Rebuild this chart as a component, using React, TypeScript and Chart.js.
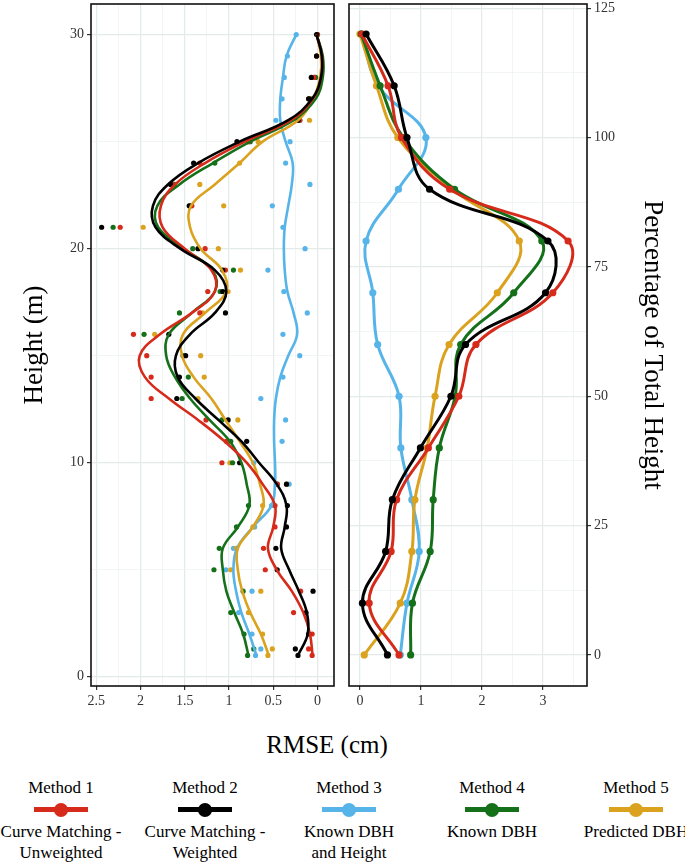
import React, { useEffect, useRef } from 'react';
import { Chart, registerables } from 'chart.js';

Chart.register(...registerables);

const FONT = "'Liberation Serif', 'Times New Roman', serif";

// left panel: heights (m) of the RMSE points
const heights = [1, 1.3, 2, 3, 4, 5, 6, 7, 8, 9, 10, 11, 12, 13, 14, 15, 16, 17, 18, 19, 20, 21, 22, 23, 24, 25, 26, 27, 28, 29, 30];
// left panel: heights where the smoothed curves were read
const curveHeights = [1, 2, 3, 4, 5, 6, 7, 8, 9, 10, 11, 12, 13, 14, 15, 16, 17, 18, 19, 20, 21, 22, 23, 24, 25, 26, 27, 28, 29, 30];
// right panel: percentage of total height
const pctLevels = [0, 10, 20, 30, 40, 50, 60, 70, 80, 90, 100, 110, 120];

// RMSE (cm) points by height
const rmseM1 = [0.06, 0.10, 0.06, 0.27, 0.19, 0.59, 0.61, 0.48, 0.48, 0.455, 1.08, 1.03, 1.26, 1.88, 1.88, 1.93, 2.08, 1.33, 1.24, 1.04, 1.27, 2.23, 1.42, 1.64, 1.33, 0.78, 0.20, 0.10, 0.04, 0.01, 0.0];
const rmseM2 = [0.22, 0.25, 0.10, 0.13, 0.05, 0.455, 0.47, 0.35, 0.34, 0.35, 0.88, 0.80, 1.01, 1.59, 1.56, 1.49, 1.68, 1.04, 1.07, 1.07, 1.35, 2.44, 1.45, 1.66, 1.40, 0.91, 0.22, 0.10, 0.07, 0.01, 0.01];
const rmseM3 = [0.70, 0.64, 0.74, 0.89, 0.74, 1.035, 0.95, 0.71, 0.52, 0.32, 0.72, 0.40, 0.36, 0.64, 0.39, 0.20, 0.39, 0.115, 0.38, 0.56, 0.14, 0.39, 0.51, 0.085, 0.36, 0.31, 0.47, 0.40, 0.375, 0.34, 0.24];
const rmseM4 = [0.79, 0.72, 0.83, 0.98, 0.84, 1.17, 1.11, 0.915, 0.78, 0.455, 0.96, 0.98, 1.08, 1.53, 1.46, 1.52, 1.96, 1.56, 1.10, 0.95, 1.41, 2.31, 1.44, 1.62, 1.16, 0.76, 0.20, 0.08, 0.02, 0.01, 0.0];
const rmseM5 = [0.56, 0.51, 0.62, 0.78, 0.64, 0.98, 0.92, 0.73, 0.62, 0.35, 0.99, 1.00, 0.90, 1.35, 1.28, 1.32, 1.84, 1.30, 1.01, 0.87, 1.12, 1.97, 1.06, 1.33, 0.88, 0.67, 0.09, 0.08, 0.03, 0.01, 0.0];

// smoothed RMSE curves by curveHeights
const smoothM1 = [0.055, 0.085, 0.16, 0.29, 0.46, 0.56, 0.50, 0.48, 0.62, 0.80, 1.05, 1.35, 1.68, 1.95, 2.01, 1.78, 1.42, 1.16, 1.20, 1.50, 1.75, 1.77, 1.61, 1.27, 0.82, 0.30, 0.05, -0.04, -0.05, 0.01];
const smoothM2 = [0.22, 0.11, 0.12, 0.21, 0.32, 0.41, 0.37, 0.35, 0.46, 0.66, 0.86, 1.12, 1.38, 1.58, 1.60, 1.44, 1.16, 1.03, 1.16, 1.55, 1.83, 1.86, 1.69, 1.35, 0.88, 0.33, 0.06, -0.04, -0.05, 0.01];
const smoothM3 = [0.69, 0.77, 0.86, 0.92, 0.95, 0.91, 0.73, 0.52, 0.48, 0.48, 0.49, 0.49, 0.47, 0.42, 0.33, 0.23, 0.27, 0.34, 0.37, 0.38, 0.37, 0.33, 0.29, 0.28, 0.36, 0.42, 0.42, 0.39, 0.35, 0.24];
const smoothM4 = [0.78, 0.84, 0.94, 1.03, 1.07, 1.07, 0.90, 0.77, 0.80, 0.86, 0.99, 1.22, 1.44, 1.61, 1.71, 1.68, 1.42, 1.16, 1.19, 1.51, 1.80, 1.81, 1.56, 1.18, 0.76, 0.27, 0.02, -0.06, -0.06, 0.01];
const smoothM5 = [0.55, 0.64, 0.76, 0.85, 0.90, 0.90, 0.73, 0.61, 0.65, 0.73, 0.88, 1.04, 1.20, 1.40, 1.53, 1.52, 1.27, 1.03, 1.08, 1.32, 1.44, 1.43, 1.16, 0.88, 0.62, 0.22, 0.05, -0.03, -0.04, 0.01];

// RMSE (cm) by percentage of total height
const pctM1 = [0.64, 0.15, 0.51, 0.60, 1.12, 1.62, 1.90, 3.16, 3.41, 1.47, 0.68, 0.46, 0.03];
const pctM2 = [0.45, 0.04, 0.42, 0.53, 0.99, 1.49, 1.73, 3.04, 3.08, 1.14, 0.77, 0.56, 0.10];
const pctM3 = [0.66, 0.77, 0.97, 0.85, 0.67, 0.64, 0.29, 0.21, 0.10, 0.63, 1.08, 0.30, 0.03];
const pctM4 = [0.83, 0.86, 1.15, 1.20, 1.30, 1.56, 1.65, 2.52, 2.98, 1.55, 0.71, 0.33, 0.02];
const pctM5 = [0.07, 0.66, 0.85, 0.90, 1.10, 1.23, 1.46, 2.25, 2.61, 1.52, 0.62, 0.27, 0.00];

// ticks (all = gridlines, major = labelled)
const leftXTicks = [0, 0.25, 0.5, 0.75, 1, 1.25, 1.5, 1.75, 2, 2.25, 2.5];
const leftXMajor = [0, 0.5, 1, 1.5, 2, 2.5];
const leftYTicks = [0, 5, 10, 15, 20, 25, 30];
const leftYMajor = [0, 10, 20, 30];
const rightXTicks = [0, 0.5, 1, 1.5, 2, 2.5, 3, 3.5];
const rightXMajor = [0, 1, 2, 3];
const rightYTicks = [0, 12.5, 25, 37.5, 50, 62.5, 75, 87.5, 100, 112.5, 125];
const rightYMajor = [0, 25, 50, 75, 100, 125];

const methodNames = ['Method 1', 'Method 2', 'Method 3', 'Method 4', 'Method 5'];
const methodLabels = [
  ['Curve Matching -', 'Unweighted'],
  ['Curve Matching -', 'Weighted'],
  ['Known DBH', 'and Height'],
  ['Known DBH'],
  ['Predicted DBH'],
];
const methodColors = ['#D62A1A', '#000000', '#56B4E9', '#15701A', '#DAA21E'];
// drawing order: lower is drawn on top
const methodOrder = [1, 0, 4, 2, 3];

const methods = [
  { points: rmseM1, smooth: smoothM1, pct: pctM1 },
  { points: rmseM2, smooth: smoothM2, pct: pctM2 },
  { points: rmseM3, smooth: smoothM3, pct: pctM3 },
  { points: rmseM4, smooth: smoothM4, pct: pctM4 },
  { points: rmseM5, smooth: smoothM5, pct: pctM5 },
];

// black box round the panel, like the ggplot panel border
const framePlugin = {
  id: 'frame',
  afterDraw(chart: any) {
    const { ctx, chartArea: a } = chart;
    ctx.save();
    ctx.strokeStyle = '#111';
    ctx.lineWidth = 1.6;
    ctx.strokeRect(a.left, a.top, a.right - a.left, a.bottom - a.top);
    ctx.restore();
  },
};

// fixed axis box so the panels land where they do in the figure
const fixSize = (key: 'width' | 'height', size: number) => (s: any) => {
  s[key] = size;
  s.paddingTop = 0;
  s.paddingBottom = 0;
  s.paddingLeft = 0;
  s.paddingRight = 0;
};

function makeAxis(all: number[], major: number[], extra: any) {
  return {
    type: 'linear',
    afterBuildTicks: (scale: any) => {
      scale.ticks = all.map((value) => ({ value }));
    },
    ticks: {
      autoSkip: false,
      maxRotation: 0,
      padding: 3,
      color: '#333',
      font: { family: FONT, size: 14 },
      callback: (v: number) => (major.includes(v) ? String(v) : ''),
    },
    grid: {
      color: (c: any) => (major.includes(c.tick?.value) ? '#E2EAEA' : '#EDF2F2'),
      lineWidth: (c: any) => (major.includes(c.tick?.value) ? 1.2 : 0.8),
      tickColor: (c: any) => (major.includes(c.tick?.value) ? '#333' : 'rgba(0,0,0,0)'),
      tickLength: 4,
      drawTicks: true,
    },
    border: { display: false },
    ...extra,
  };
}

function leftConfig(): any {
  const datasets: any[] = [];
  methods.forEach((m, i) => {
    datasets.push({
      data: curveHeights.map((h, k) => ({ x: m.smooth[k], y: h })),
      showLine: true,
      borderColor: methodColors[i],
      borderWidth: 2.6,
      pointRadius: 0,
      tension: 0.4,
      order: methodOrder[i],
    });
    datasets.push({
      data: heights.map((h, k) => ({ x: m.points[k], y: h })),
      showLine: false,
      backgroundColor: methodColors[i],
      pointRadius: 2.6,
      pointBorderWidth: 0,
      order: 10 + methodOrder[i],
    });
  });
  return {
    type: 'scatter',
    data: { datasets },
    plugins: [framePlugin],
    options: {
      animation: false,
      responsive: true,
      maintainAspectRatio: false,
      layout: { padding: { top: 1, right: 6, bottom: 0, left: 0 } },
      plugins: { legend: { display: false }, tooltip: { enabled: false } },
      scales: {
        x: makeAxis(leftXTicks, leftXMajor, {
          position: 'bottom',
          reverse: true,
          min: -0.187,
          max: 2.56,
          afterFit: fixSize('height', 34),
        }),
        y: makeAxis(leftYTicks, leftYMajor, {
          position: 'left',
          min: -0.43,
          max: 31.43,
          afterFit: fixSize('width', 91),
          title: {
            display: true,
            text: 'Height (m)',
            color: '#000',
            font: { family: FONT, size: 27 },
            padding: { top: 19, bottom: 0 },
          },
        }),
      },
    },
  };
}

function rightConfig(): any {
  const datasets = methods.map((m, i) => ({
    data: pctLevels.map((p, k) => ({ x: m.pct[k], y: p })),
    showLine: true,
    borderColor: methodColors[i],
    backgroundColor: methodColors[i],
    borderWidth: 3,
    pointRadius: 3.6,
    pointBorderWidth: 0,
    tension: 0.4,
    order: methodOrder[i],
  }));
  return {
    type: 'scatter',
    data: { datasets },
    plugins: [framePlugin],
    options: {
      animation: false,
      responsive: true,
      maintainAspectRatio: false,
      layout: { padding: { top: 1, right: 0, bottom: 0, left: 9 } },
      plugins: { legend: { display: false }, tooltip: { enabled: false } },
      scales: {
        x: makeAxis(rightXTicks, rightXMajor, {
          position: 'bottom',
          min: -0.18,
          max: 3.72,
          afterFit: fixSize('height', 34),
        }),
        y: makeAxis(rightYTicks, rightYMajor, {
          position: 'right',
          min: -6,
          max: 125.8,
          afterFit: fixSize('width', 98),
          title: {
            display: true,
            text: 'Percentage of Total Height',
            color: '#000',
            font: { family: FONT, size: 27 },
            padding: { top: 17, bottom: 0 },
          },
        }),
      },
    },
  };
}

const ChartCanvas: React.FC<{ makeConfig: () => any; style: React.CSSProperties }> = ({ makeConfig, style }) => {
  const canvasRef = useRef<HTMLCanvasElement>(null);

  useEffect(() => {
    const chart = new Chart(canvasRef.current!, makeConfig());
    return () => {
      chart.destroy();
    };
  }, [makeConfig]);

  return (
    <div style={style}>
      <canvas ref={canvasRef} />
    </div>
  );
};

const legendCenters = [61, 205, 349, 492, 636];

const App: React.FC = () => {
  useEffect(() => {
    document.body.style.margin = '0';
  }, []);

  const text: React.CSSProperties = { position: 'absolute', fontFamily: FONT, color: '#000', whiteSpace: 'nowrap', textAlign: 'center' };

  return (
    <div style={{ position: 'relative', width: 685, height: 862, background: '#fff', overflow: 'hidden' }}>
      <ChartCanvas makeConfig={leftConfig} style={{ position: 'absolute', left: 0, top: 0, width: 340, height: 720 }} />
      <ChartCanvas makeConfig={rightConfig} style={{ position: 'absolute', left: 340, top: 0, width: 345, height: 720 }} />
      <div style={{ ...text, left: 227, width: 200, top: 730, fontSize: 25, lineHeight: '30px' }}>RMSE (cm)</div>
      {methodNames.map((name, i) => {
        const cx = legendCenters[i];
        return (
          <React.Fragment key={name}>
            <div style={{ ...text, left: cx - 75, width: 150, top: 777, fontSize: 17, lineHeight: '21px' }}>{name}</div>
            <div style={{ position: 'absolute', left: cx - 27, top: 807, width: 54, height: 5, background: methodColors[i] }} />
            <div style={{ position: 'absolute', left: cx - 7, top: 802.5, width: 14, height: 14, borderRadius: '50%', background: methodColors[i] }} />
            <div style={{ ...text, left: cx - 75, width: 150, top: 821, fontSize: 17, lineHeight: '21px' }}>
              {methodLabels[i].map((l) => (
                <div key={l}>{l}</div>
              ))}
            </div>
          </React.Fragment>
        );
      })}
    </div>
  );
};

export default App;
